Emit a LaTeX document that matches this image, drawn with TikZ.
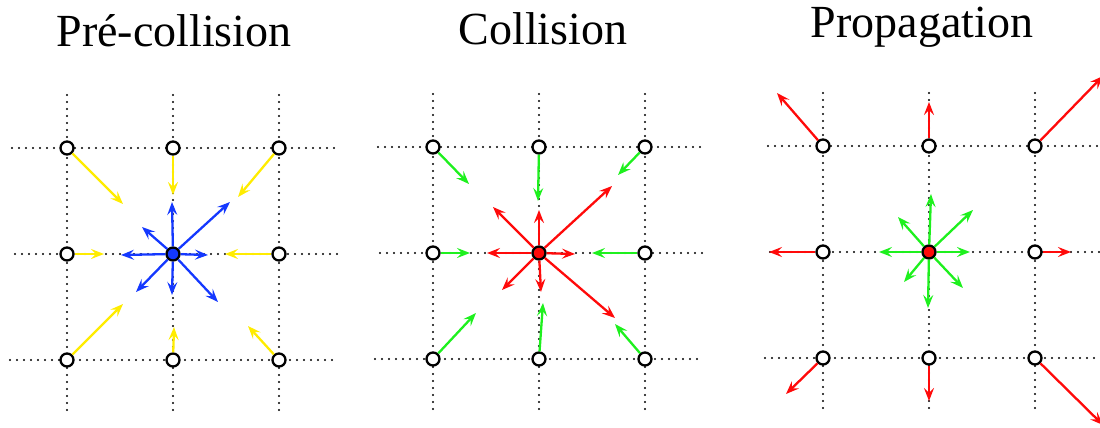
\documentclass[tikz,border=0pt]{standalone}
\usepackage{fontspec}
\setmainfont{Liberation Serif}
\usetikzlibrary{arrows.meta,positioning}
\definecolor{inkblack}{HTML}{000000}
\definecolor{inyellow}{HTML}{FFEC00}
\definecolor{restblue}{HTML}{1438FF}
\definecolor{postred}{HTML}{FF0A0A}
\definecolor{movegreen}{HTML}{1EF01E}

\begin{document}
\begin{tikzpicture}[
  x=1pt, y=-1pt,
  node distance=106pt and 106pt, on grid,
  title/.style={font=\fontsize{46}{50}\selectfont, anchor=base, inner sep=0pt},
  lattice/.style={draw=inkblack, line width=2.2pt, line cap=round, dash pattern=on 0pt off 7pt},
  site/.style={circle, draw=inkblack, fill=white, line width=2.3pt, minimum size=13pt, inner sep=0pt},
  hub/.style={site, fill=restblue},
  hot/.style={site, fill=postred},
  arr/.style={-{Stealth[length=13pt, width=10pt, inset=5pt]}, line width=2.3pt},
  yel/.style={arr, color=inyellow},
  blu/.style={arr, color=restblue},
  red/.style={arr, color=postred},
  grn/.style={arr, color=movegreen},
]
  \useasboundingbox (0,0) rectangle (1100,428);

  % titles
  \node[title] (pre-t) at (174,47) {Pré-collision};
  \node[title] (col-t) at (543,45) {Collision};
  \node[title] (pro-t) at (922,38) {Propagation};

  % dotted lattice lines
  \draw[lattice] (12,148) -- (340,148);
  \draw[lattice] (15,254) -- (340,254);
  \draw[lattice] (10,360) -- (337,360);
  \draw[lattice] (67,95) -- (67,413);
  \draw[lattice] (173,95) -- (173,413);
  \draw[lattice] (279,95) -- (279,413);
  \draw[lattice] (378,147) -- (705,147);
  \draw[lattice] (380,253) -- (705,253);
  \draw[lattice] (375,359) -- (702,359);
  \draw[lattice] (433,94) -- (433,412);
  \draw[lattice] (539,94) -- (539,412);
  \draw[lattice] (645,94) -- (645,412);
  \draw[lattice] (768,146) -- (1100,146);
  \draw[lattice] (770,252) -- (1100,252);
  \draw[lattice] (765,358) -- (1100,358);
  \draw[lattice] (823,93) -- (823,410);
  \draw[lattice] (929,93) -- (929,410);
  \draw[lattice] (1035,93) -- (1035,410);

  % pre-collision sites
  \node[hub] (pre-c) at (173,254) {};
  \node[site, above left=of pre-c] (pre-nw) {};
  \node[site, above=of pre-c] (pre-n) {};
  \node[site, above right=of pre-c] (pre-ne) {};
  \node[site, left=of pre-c] (pre-w) {};
  \node[site, right=of pre-c] (pre-e) {};
  \node[site, below left=of pre-c] (pre-sw) {};
  \node[site, below=of pre-c] (pre-s) {};
  \node[site, below right=of pre-c] (pre-se) {};

  % collision sites
  \node[hot] (col-c) at (539,253) {};
  \node[site, above left=of col-c] (col-nw) {};
  \node[site, above=of col-c] (col-n) {};
  \node[site, above right=of col-c] (col-ne) {};
  \node[site, left=of col-c] (col-w) {};
  \node[site, right=of col-c] (col-e) {};
  \node[site, below left=of col-c] (col-sw) {};
  \node[site, below=of col-c] (col-s) {};
  \node[site, below right=of col-c] (col-se) {};

  % propagation sites
  \node[hot] (pro-c) at (929,252) {};
  \node[site, above left=of pro-c] (pro-nw) {};
  \node[site, above=of pro-c] (pro-n) {};
  \node[site, above right=of pro-c] (pro-ne) {};
  \node[site, left=of pro-c] (pro-w) {};
  \node[site, right=of pro-c] (pro-e) {};
  \node[site, below left=of pro-c] (pro-sw) {};
  \node[site, below=of pro-c] (pro-s) {};
  \node[site, below right=of pro-c] (pro-se) {};

  % free ends of the populations
  \coordinate (pre-nw-in) at (123,204);
  \coordinate (pre-n-in) at (173,195);
  \coordinate (pre-ne-in) at (238,197);
  \coordinate (pre-w-in) at (104,254);
  \coordinate (pre-e-in) at (225,254);
  \coordinate (pre-sw-in) at (123,304);
  \coordinate (pre-s-in) at (174,327);
  \coordinate (pre-se-in) at (248,326);
  \coordinate (pre-c-n) at (172,202);
  \coordinate (pre-c-ne) at (230,202);
  \coordinate (pre-c-nw) at (142,227);
  \coordinate (pre-c-w) at (121,255);
  \coordinate (pre-c-e) at (208,255);
  \coordinate (pre-c-sw) at (136,292);
  \coordinate (pre-c-s) at (172,295);
  \coordinate (pre-c-se) at (218,302);

  \coordinate (col-nw-in) at (469,184);
  \coordinate (col-n-in) at (538,201);
  \coordinate (col-ne-in) at (618,175);
  \coordinate (col-w-in) at (470,253);
  \coordinate (col-e-in) at (592,253);
  \coordinate (col-sw-in) at (476,313);
  \coordinate (col-s-in) at (543,303);
  \coordinate (col-se-in) at (615,324);
  \coordinate (col-c-n) at (539,210);
  \coordinate (col-c-ne) at (612,186);
  \coordinate (col-c-nw) at (493,207);
  \coordinate (col-c-w) at (487,253);
  \coordinate (col-c-e) at (575,254);
  \coordinate (col-c-sw) at (502,290);
  \coordinate (col-c-s) at (541,292);
  \coordinate (col-c-se) at (615,318);

  \coordinate (pro-nw-out) at (777,93);
  \coordinate (pro-n-out) at (929,102);
  \coordinate (pro-ne-out) at (1103,76);
  \coordinate (pro-w-out) at (769,252);
  \coordinate (pro-e-out) at (1071,252);
  \coordinate (pro-sw-out) at (786,394);
  \coordinate (pro-s-out) at (929,401);
  \coordinate (pro-se-out) at (1103,425);
  \coordinate (pro-c-n) at (931,194);
  \coordinate (pro-c-ne) at (973,210);
  \coordinate (pro-c-nw) at (898,217);
  \coordinate (pro-c-w) at (879,252);
  \coordinate (pro-c-e) at (970,252);
  \coordinate (pro-c-sw) at (904,282);
  \coordinate (pro-c-s) at (928,308);
  \coordinate (pro-c-se) at (963,288);

  % pre-collision: incoming (yellow) and resting (blue)
  \draw[yel] (pre-nw) -- (pre-nw-in);
  \draw[yel] (pre-n) -- (pre-n-in);
  \draw[yel] (pre-ne) -- (pre-ne-in);
  \draw[yel] (pre-w) -- (pre-w-in);
  \draw[yel] (pre-e) -- (pre-e-in);
  \draw[yel] (pre-sw) -- (pre-sw-in);
  \draw[yel] (pre-s) -- (pre-s-in);
  \draw[yel] (pre-se) -- (pre-se-in);
  \draw[blu] (pre-c) -- (pre-c-n);
  \draw[blu] (pre-c) -- (pre-c-ne);
  \draw[blu] (pre-c) -- (pre-c-nw);
  \draw[blu] (pre-c) -- (pre-c-w);
  \draw[blu] (pre-c) -- (pre-c-e);
  \draw[blu] (pre-c) -- (pre-c-sw);
  \draw[blu] (pre-c) -- (pre-c-s);
  \draw[blu] (pre-c) -- (pre-c-se);

  % collision: incoming (green) and post-collision (red)
  \draw[grn] (col-nw) -- (col-nw-in);
  \draw[grn] (col-n) -- (col-n-in);
  \draw[grn] (col-ne) -- (col-ne-in);
  \draw[grn] (col-w) -- (col-w-in);
  \draw[grn] (col-e) -- (col-e-in);
  \draw[grn] (col-sw) -- (col-sw-in);
  \draw[grn] (col-s) -- (col-s-in);
  \draw[grn] (col-se) -- (col-se-in);
  \draw[red] (col-c) -- (col-c-n);
  \draw[red] (col-c) -- (col-c-ne);
  \draw[red] (col-c) -- (col-c-nw);
  \draw[red] (col-c) -- (col-c-w);
  \draw[red] (col-c) -- (col-c-e);
  \draw[red] (col-c) -- (col-c-sw);
  \draw[red] (col-c) -- (col-c-s);
  \draw[red] (col-c) -- (col-c-se);

  % propagation: streamed out (red) and arrived (green)
  \draw[red] (pro-nw) -- (pro-nw-out);
  \draw[red] (pro-n) -- (pro-n-out);
  \draw[red] (pro-ne) -- (pro-ne-out);
  \draw[red] (pro-w) -- (pro-w-out);
  \draw[red] (pro-e) -- (pro-e-out);
  \draw[red] (pro-sw) -- (pro-sw-out);
  \draw[red] (pro-s) -- (pro-s-out);
  \draw[red] (pro-se) -- (pro-se-out);
  \draw[grn] (pro-c) -- (pro-c-n);
  \draw[grn] (pro-c) -- (pro-c-ne);
  \draw[grn] (pro-c) -- (pro-c-nw);
  \draw[grn] (pro-c) -- (pro-c-w);
  \draw[grn] (pro-c) -- (pro-c-e);
  \draw[grn] (pro-c) -- (pro-c-sw);
  \draw[grn] (pro-c) -- (pro-c-s);
  \draw[grn] (pro-c) -- (pro-c-se);
\end{tikzpicture}
\end{document}
